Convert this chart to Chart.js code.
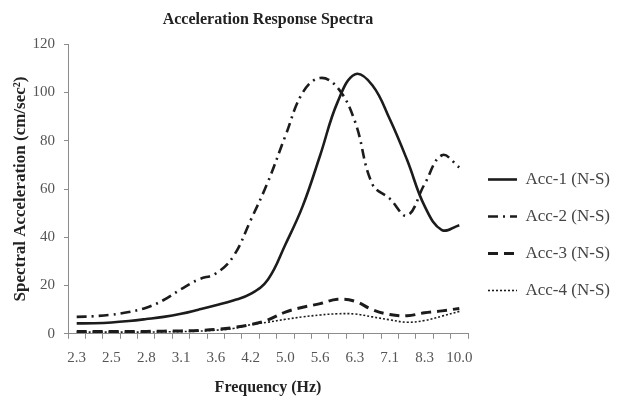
<!DOCTYPE html>
<html>
<head>
  <title>Acceleration Response Spectra</title>
  <script src="https://cdn.jsdelivr.net/npm/chart.js"></script>
  <style>
    html, body {
      margin: 0;
      padding: 0;
      background: #fff;
    }
    #wrap {
      width: 621px;
      height: 403px;
    }
  </style>
</head>
<body>
  <div id="wrap"><canvas id="chart"></canvas></div>

  <script>
    // frequencies (Hz), only every other one is labelled
    var freqs = ["2.3", "2.4", "2.5", "2.6", "2.8", "2.9", "3.1", "3.3", "3.6", "3.9", "4.2", "4.6",
                 "5.0", "5.3", "5.6", "5.9", "6.3", "6.7", "7.1", "7.7", "8.3", "9.1", "10.0"];

    // spectral acceleration (cm/sec^2)
    var acc1 = [4.3, 4.4, 4.7, 5.3, 6.1, 7.0, 8.3, 10, 11.8, 13.8, 16.5, 22.5, 37, 53, 74, 96, 107.5, 103, 89, 72, 53, 43, 45];
    var acc2 = [7.0, 7.3, 7.9, 9.0, 10.8, 14, 18.5, 22.5, 25, 32, 47, 63, 82, 100, 106, 102, 88, 62, 56, 49, 62, 74, 69];
    var acc3 = [1.0, 1.0, 1.0, 1.0, 1.0, 1.1, 1.2, 1.4, 1.8, 2.6, 3.8, 5.8, 9, 11, 12.5, 14.3, 13.5, 10, 8, 7.5, 8.7, 9.5, 10.5];
    var acc4 = [0.7, 0.7, 0.7, 0.7, 0.7, 0.8, 0.9, 1.1, 1.5, 2.2, 3.8, 4.8, 6, 7, 7.8, 8.3, 8.2, 7, 5.8, 4.8, 5.5, 7.3, 9.3];

    var names = ["Acc-1 (N-S)", "Acc-2 (N-S)", "Acc-3 (N-S)", "Acc-4 (N-S)"];
    var yTicks = [0, 20, 40, 60, 80, 100, 120];

    var serif = "'Liberation Serif', 'Times New Roman', serif";
    var ink = "#1c1c1c";

    function series(label, values, width, dash) {
      return {
        label: label,
        data: values,
        borderColor: ink,
        backgroundColor: ink,
        borderWidth: width,
        borderDash: dash,
        pointRadius: 0,
        tension: 0.4,
        fill: false
      };
    }

    var ctx = document.getElementById("chart").getContext("2d");
    var chart = new Chart(ctx, {
      type: "line",
      data: {
        labels: freqs,
        datasets: [
          series(names[0], acc1, 2.6, []),
          series(names[1], acc2, 2.6, [10, 5, 2, 5]),
          series(names[2], acc3, 3, [10, 6]),
          series(names[3], acc4, 1.6, [2, 2])
        ]
      },
      options: {
        responsive: true,
        maintainAspectRatio: false,
        animation: false,
        layout: {
          padding: { left: 2, right: 1, top: 0, bottom: 2 }
        },
        plugins: {
          title: {
            display: true,
            text: "Acceleration Response Spectra",
            fullSize: false,
            color: "#222",
            font: { family: serif, size: 16, weight: "bold" },
            padding: { top: 10, bottom: 15 }
          },
          legend: {
            position: "right",
            align: "center",
            // empty title only pushes the entries down
            title: {
              display: true,
              text: " ",
              font: { size: 10, lineHeight: 1 },
              padding: { top: 59, bottom: 0 }
            },
            labels: {
              usePointStyle: true,
              pointStyle: "line",
              pointStyleWidth: 29,
              color: "#444",
              padding: 20,
              font: { family: serif, size: 17, lineHeight: 0.94 },
              // point style would drop the dash pattern, take it from the dataset
              generateLabels: function(chart) {
                var items = Chart.defaults.plugins.legend.labels.generateLabels(chart);
                items.forEach(function(item, i) {
                  var ds = chart.data.datasets[i];
                  item.lineDash = ds.borderDash;
                  item.lineWidth = ds.borderWidth;
                  item.strokeStyle = ds.borderColor;
                });
                return items;
              }
            }
          },
          tooltip: { enabled: false }
        },
        scales: {
          x: {
            type: "category",
            offset: true,
            border: { color: "#8c8c8c", width: 1 },
            grid: {
              offset: true,
              drawOnChartArea: false,
              tickLength: 5,
              color: "#8c8c8c"
            },
            ticks: {
              autoSkip: false,
              maxRotation: 0,
              padding: 10,
              color: "#555",
              font: { family: serif, size: 15 },
              callback: function(value, index) {
                return index % 2 === 0 ? freqs[index] : "";
              }
            },
            title: {
              display: true,
              text: "Frequency (Hz)",
              color: "#222",
              font: { family: serif, size: 16, weight: "bold" },
              padding: { top: 1, bottom: 4 }
            }
          },
          y: {
            min: yTicks[0],
            max: yTicks[yTicks.length - 1],
            border: { color: "#8c8c8c", width: 1 },
            grid: {
              drawOnChartArea: false,
              tickLength: 4,
              color: "#8c8c8c"
            },
            ticks: {
              stepSize: yTicks[1] - yTicks[0],
              padding: 9,
              color: "#555",
              font: { family: serif, size: 15 }
            },
            title: {
              display: true,
              text: "Spectral Acceleration (cm/sec\u00b2)",
              color: "#222",
              font: { family: serif, size: 17, weight: "bold" },
              padding: { top: 8, bottom: 4 }
            },
            afterFit: function(scale) {
              scale.width = 66;
            }
          }
        }
      }
    });
  </script>
</body>
</html>
